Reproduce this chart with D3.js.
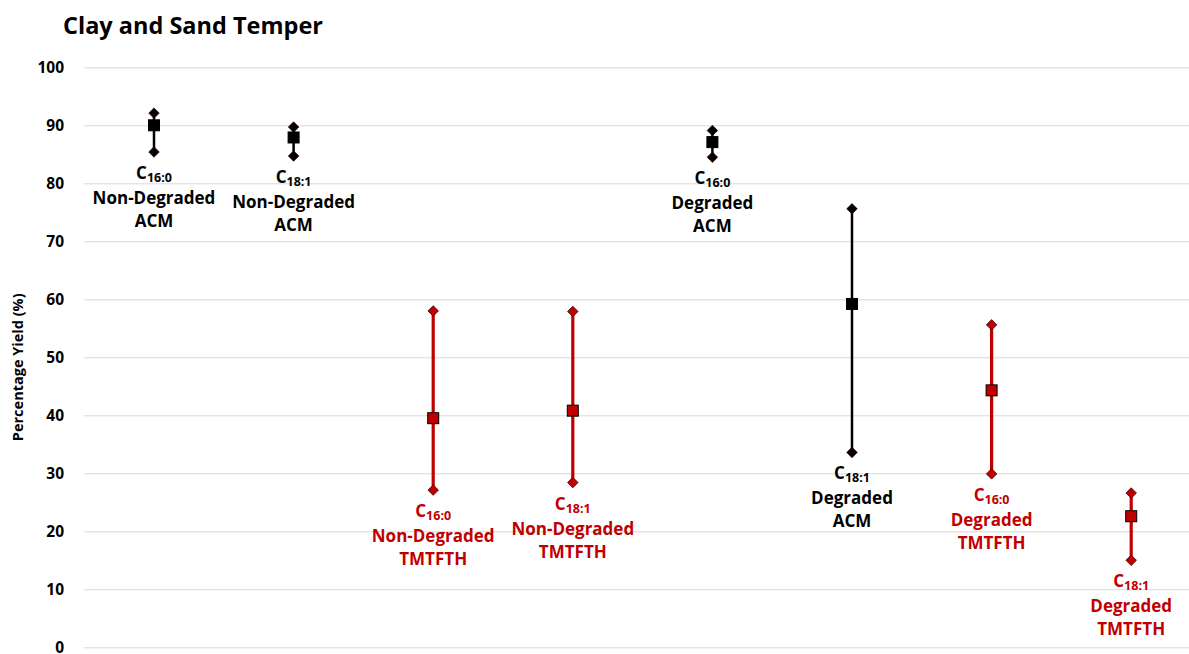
<!DOCTYPE html>
<html>
<head>
<meta charset="utf-8">
<script src="https://cdn.jsdelivr.net/npm/d3@7"></script>
<style>
  html, body { margin: 0; padding: 0; background: #fff; }
  svg { display: block; font-family: "Open Sans", "Lato", sans-serif; }
</style>
</head>
<body>
<svg id="chart" width="1189" height="654"></svg>
<script>
// Fatty acid yields per derivatisation method (mean with high/low range)
const fattyAcids = ["16:0", "18:1", "16:0", "18:1", "16:0", "18:1", "16:0", "18:1"];
const conditions = ["Non-Degraded", "Non-Degraded", "Non-Degraded", "Non-Degraded",
                    "Degraded", "Degraded", "Degraded", "Degraded"];
const reagents   = ["ACM", "ACM", "TMTFTH", "TMTFTH", "ACM", "ACM", "TMTFTH", "TMTFTH"];
const means = [90.0, 87.9, 39.5, 40.8, 87.1, 59.2, 44.3, 22.6];
const highs = [92.1, 89.7, 58.0, 57.9, 89.1, 75.6, 55.6, 26.6];
const lows  = [85.4, 84.7, 27.1, 28.4, 84.5, 33.6, 29.9, 15.0];
const yTicks = [0, 10, 20, 30, 40, 50, 60, 70, 80, 90, 100];

const reagentColor = { ACM: "#000000", TMTFTH: "#c00000" };

const svg = d3.select("#chart");
const margin = { left: 84, top: 67.3, bottom: 647.3 };
const keys = d3.range(fattyAcids.length);

const x = d3.scaleBand().domain(keys).range([84.2, 84.2 + 8 * 139.6]);
const y = d3.scaleLinear().domain([0, 100]).range([margin.bottom, margin.top]);

// Title
svg.append("text")
  .attr("x", 63).attr("y", 34)
  .attr("font-size", 23.5).attr("font-weight", 700).attr("fill", "#000")
  .text("Clay and Sand Temper");

// Gridlines and tick labels
const yAxis = d3.axisLeft(y).tickValues(yTicks).tickSize(-1189).tickPadding(20);
const gy = svg.append("g").attr("transform", `translate(${margin.left},0)`).call(yAxis);
gy.select(".domain").remove();
gy.selectAll(".tick line").attr("stroke", "#d9d9d9").attr("stroke-width", 1);
gy.selectAll(".tick text")
  .attr("font-size", 15.5).attr("font-weight", 700).attr("fill", "#000")
  .attr("font-family", "'Open Sans', sans-serif");

// Y axis title
svg.append("text")
  .attr("transform", `translate(23,${(margin.top + margin.bottom) / 2 + 10}) rotate(-90)`)
  .attr("text-anchor", "middle")
  .attr("font-size", 14.5).attr("font-weight", 700).attr("fill", "#000")
  .text("Percentage Yield (%)");

const cx = i => x(i) + x.bandwidth() / 2;

const groups = svg.append("g").selectAll("g").data(keys).join("g");

// Range bars
groups.append("line")
  .attr("x1", cx).attr("x2", cx)
  .attr("y1", i => y(highs[i])).attr("y2", i => y(lows[i]))
  .attr("stroke", i => reagentColor[reagents[i]])
  .attr("stroke-width", i => reagents[i] === "ACM" ? 2.5 : 3.2);

// High / low diamonds
const diamond = d3.symbol().type(d3.symbolDiamond2).size(70);
[highs, lows].forEach(vals => {
  groups.append("path")
    .attr("d", diamond)
    .attr("transform", i => `translate(${cx(i)},${y(vals[i])})`)
    .attr("fill", i => reagentColor[reagents[i]])
    .attr("stroke", "#3a0000").attr("stroke-width", 0.8);
});

// Mean squares
groups.append("rect")
  .attr("x", i => cx(i) - 5.5).attr("y", i => y(means[i]) - 5.5)
  .attr("width", 11).attr("height", 11)
  .attr("fill", i => reagentColor[reagents[i]])
  .attr("stroke", "#000").attr("stroke-width", 1);

// Labels below each range
const labels = groups.append("text")
  .attr("text-anchor", "middle")
  .attr("font-size", 17).attr("font-weight", 700)
  .attr("fill", i => reagentColor[reagents[i]]);

labels.each(function (i) {
  const t = d3.select(this);
  const base = y(lows[i]) + 27;
  const l1 = t.append("tspan").attr("x", cx(i)).attr("y", base);
  l1.append("tspan").text("C");
  l1.append("tspan").attr("font-size", 12.5).attr("dy", 3).text(fattyAcids[i]);
  t.append("tspan").attr("x", cx(i)).attr("y", base + 25).text(conditions[i]);
  t.append("tspan").attr("x", cx(i)).attr("y", base + 48).text(reagents[i]);
});
</script>
</body>
</html>
